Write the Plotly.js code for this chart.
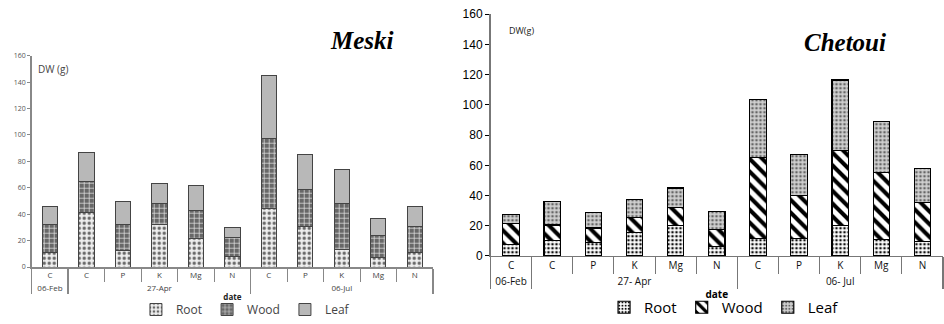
<!DOCTYPE html>
<html><head><meta charset="utf-8">
<script src="https://cdn.plot.ly/plotly-3.0.1.min.js"></script>
<style>html,body{margin:0;padding:0;background:#fff}#c{width:944px;height:324px}</style>
</head><body><div id="c"></div>
<script>
// Meski
const meskiDates = ['06-Feb','27-Apr','27-Apr','27-Apr','27-Apr','27-Apr','06-Jul','06-Jul','06-Jul','06-Jul','06-Jul'];
const meskiCats  = ['C','C','P','K','Mg','N','C','P','K','Mg','N'];
const meskiRoot  = [11, 41, 12.5, 32, 21.5, 8, 44, 30.5, 13, 7, 11];
const meskiWood  = [21.5, 24, 20, 16, 21.5, 14.5, 53, 28, 35, 17, 20];
const meskiLeaf  = [13, 21.5, 17, 15.5, 18.5, 7.5, 48, 27, 25.5, 12.5, 14.5];
// Chetoui
const chetDates = ['06-Feb','27- Apr','27- Apr','27- Apr','27- Apr','27- Apr','06- Jul','06- Jul','06- Jul','06- Jul','06- Jul'];
const chetCats  = ['C','C','P','K','Mg','N','C','P','K','Mg','N'];
const chetRoot  = [7.7, 10, 9, 15.5, 20, 6.5, 11.5, 11.5, 20, 11, 9.5];
const chetWood  = [14, 10.5, 9.5, 10, 12, 11, 53.5, 28.5, 50, 44, 26];
const chetLeaf  = [5.5, 15.5, 10.5, 12, 13, 12, 38.5, 27, 46.5, 34, 22.5];

const seriesNames = ['Root','Wood','Leaf'];

const mPat = [
  {shape:'.', fgcolor:'#666', bgcolor:'#eeeeee', size:5, solidity:0.35},
  {shape:'+', fgcolor:'#e8e8e8', bgcolor:'#686868', size:5, solidity:0.25},
  {shape:'', fgcolor:'#b8b8b8', bgcolor:'#b8b8b8'}
];
const cPat = [
  {shape:'.', fgcolor:'#111', bgcolor:'#ffffff', size:4, solidity:0.35},
  {shape:'\\', fgcolor:'#000', bgcolor:'#ffffff', size:9, solidity:0.45},
  {shape:'.', fgcolor:'#666', bgcolor:'#d0d0d0', size:4, solidity:0.35}
];
const mVals = [meskiRoot, meskiWood, meskiLeaf];
const cVals = [chetRoot, chetWood, chetLeaf];
const traces = [];
for (let i=0;i<3;i++){
  traces.push({type:'bar', name:seriesNames[i], x:[meskiDates, meskiCats], y:mVals[i],
    xaxis:'x', yaxis:'y', legend:'legend', width:0.42,
    marker:{color: mPat[i].bgcolor, pattern: i===2?{shape:''}:mPat[i], line:{color:'#444', width:1}}});
}
for (let i=0;i<3;i++){
  traces.push({type:'bar', name:seriesNames[i], x:[chetDates, chetCats], y:cVals[i],
    xaxis:'x2', yaxis:'y2', legend:'legend2', width:0.4,
    marker:{color:cPat[i].bgcolor, pattern:cPat[i], line:{color:'#000', width:1.2}}});
}

const layout = {
  width:944, height:324, margin:{l:0,r:0,t:0,b:0},
  paper_bgcolor:'#fff', plot_bgcolor:'rgba(0,0,0,0)',
  barmode:'stack', font:{family:'Open Sans, sans-serif'},
  xaxis:{domain:[0.0336,0.4587], anchor:'y', type:'multicategory', automargin:false, showline:true, linecolor:'#888', linewidth:1.5,
    tickson:'boundaries', ticks:'outside', ticklen:13, tickcolor:'#888', showdividers:true, dividercolor:'#888', dividerwidth:1.5,
    tickfont:{size:8, color:'#444'}, title:{text:'<b>date</b>', font:{size:8, color:'#222'}, standoff:2}, showgrid:false},
  yaxis:{domain:[0.1759,0.828], anchor:'x', automargin:false, range:[0,160], dtick:20, showline:true, linecolor:'#888', linewidth:1.5,
    ticks:'outside', ticklen:3, tickcolor:'#888', tickfont:{size:7, color:'#555'}, showgrid:false, zeroline:false},
  xaxis2:{domain:[0.5196,0.999], anchor:'y2', type:'multicategory', automargin:false, showline:true, linecolor:'#777', linewidth:1.5,
    tickson:'boundaries', ticks:'outside', ticklen:17, tickcolor:'#777', showdividers:true, dividercolor:'#777', dividerwidth:1.5,
    tickfont:{size:10, color:'#111'}, title:{text:'<b>date</b>', font:{size:10, color:'#000'}, standoff:3}, showgrid:false},
  yaxis2:{domain:[0.2099,0.956], anchor:'x2', automargin:false, range:[0,160], dtick:20, showline:true, linecolor:'#777', linewidth:1.5,
    ticks:'outside', ticklen:4, tickcolor:'#000', tickfont:{size:12, color:'#000', family:'Liberation Sans, Arial'}, showgrid:false, zeroline:false},
  legend:{orientation:'h', traceorder:'normal', x:0.26, xanchor:'center', y:0, yanchor:'bottom', font:{size:12, color:'#444'}, itemwidth:30, bgcolor:'rgba(0,0,0,0)'},
  legend2:{orientation:'h', traceorder:'normal', x:0.767, xanchor:'center', y:0, yanchor:'bottom', font:{size:15, color:'#000'}, itemwidth:30, bgcolor:'rgba(0,0,0,0)'},
  annotations:[
    {text:'<b><i>Meski</i></b>', xref:'paper', yref:'paper', x:362/944, y:1-25/324, showarrow:false, font:{family:'Liberation Serif', size:25, color:'#000'}},
    {text:'<b><i>Chetoui</i></b>', xref:'paper', yref:'paper', x:888/944, y:1-27/324, showarrow:false, font:{family:'Liberation Serif', size:25, color:'#000'}},
    {text:'DW (g)', xref:'paper', yref:'paper', x:36/944, xanchor:'left', y:1-60/324, showarrow:false, font:{size:10, color:'#444'}},
    {text:'DW(g)', xref:'paper', yref:'paper', x:507/944, xanchor:'left', y:1-22/324, showarrow:false, font:{size:9, color:'#222'}}
  ]
};
Plotly.newPlot('c', traces, layout, {displayModeBar:false, staticPlot:true});
</script></body></html>
